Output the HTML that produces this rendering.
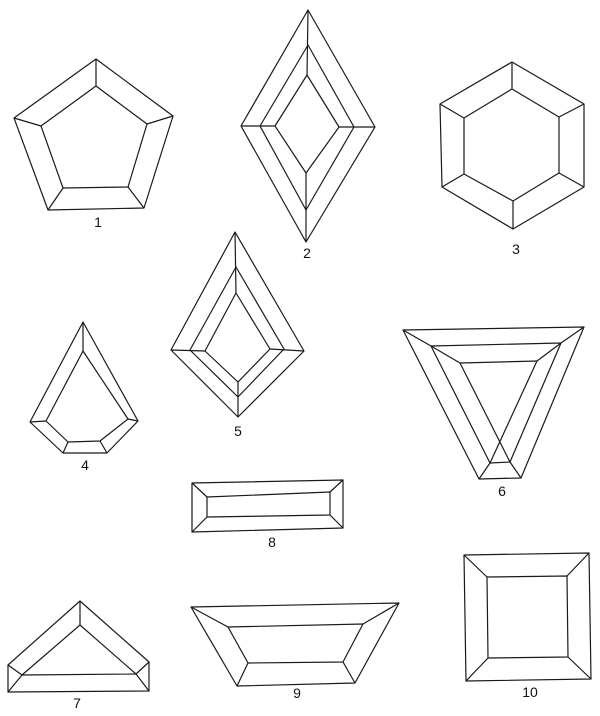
<!DOCTYPE html>
<html><head><meta charset="utf-8"><style>
html,body{margin:0;padding:0;background:#fff;width:600px;height:716px;overflow:hidden}
svg{display:block}
.s{fill:none;stroke:#1a1a1a;stroke-width:1.2;stroke-linejoin:round}
text{font-family:"Liberation Sans",sans-serif;font-size:14px;fill:#111;text-anchor:middle}
</style></head><body>
<svg width="600" height="716" viewBox="0 0 600 716">
<g class="s">
<polygon points="96,59 173,116 144,208 48,210 14,118"/>
<polygon points="96,86 147,124 128,187 63,188 41,126"/>
<path d="M96,59L96,86M173,116L147,124M144,208L128,187M48,210L63,188M14,118L41,126"/>
</g>
<text x="98" y="227">1</text>

<g class="s">
<polygon points="308,10 375,127 306,242 241,126"/>
<polygon points="308,45 354,127 306,210 260,126"/>
<polygon points="307,75 339,127 306,173 275,126"/>
<path d="M308,10L307,75M241,126L275,126M375,127L339,127M306,242L306,173"/>
</g>
<text x="307" y="258">2</text>

<g class="s">
<polygon points="512,62 584,104 584,187 513,229 442,187 440,104"/>
<polygon points="512,89 559,117 559,173 513,201 464,174 464,118"/>
<path d="M512,62L512,89M584,104L559,117M584,187L559,173M513,229L513,201M442,187L464,174M440,104L464,118"/>
</g>
<text x="516" y="254">3</text>

<g class="s">
<polygon points="83,322 138,421 107,453 63,453 30,422"/>
<polygon points="83,351 128,419 100,441 68,442 46,421"/>
<path d="M83,322L83,351M138,421L128,419M107,453L100,441M63,453L68,442M30,422L46,421"/>
</g>
<text x="85" y="470">4</text>

<g class="s">
<polygon points="235,232 304,351 238,417 171,350"/>
<polygon points="236,267 284,349 238,397 190,350"/>
<polygon points="236,293 270,349 238,382 205,351"/>
<path d="M235,232L236,293M171,350L205,351M304,351L270,349M238,417L238,382"/>
</g>
<text x="238" y="436">5</text>

<g class="s">
<polygon points="403,330 584,327 521,478 479,479"/>
<path d="M431,346L561,343M431,346L490,463M561,343L510,462M490,463L510,462"/>
<path d="M460,363L537,361M460,363L510,462M537,361L490,463"/>
<path d="M403,330L431,346M584,327L561,343M431,346L460,363M561,343L537,361M479,479L490,463M521,478L510,462"/>
</g>
<text x="502" y="496">6</text>

<g class="s">
<polygon points="192,483 343,480 343,528 192,532"/>
<polygon points="207,497 330,492 330,515 207,517"/>
<path d="M192,483L207,497M343,480L330,492M343,528L330,515M192,532L207,517"/>
</g>
<text x="272" y="547">8</text>

<g class="s">
<polygon points="80,601 149,662 149,691 8,692 8,665"/>
<polygon points="80,625 136,674 22,675"/>
<path d="M80,601L80,625M8,665L22,675M22,675L8,692M149,662L136,674M136,674L149,691"/>
</g>
<text x="77" y="708">7</text>

<g class="s">
<polygon points="191,607 399,603 355,683 237,686"/>
<polygon points="228,627 363,624 343,662 248,663"/>
<path d="M191,607L228,627M399,603L363,624M355,683L343,662M237,686L248,663"/>
</g>
<text x="297" y="698">9</text>

<g class="s">
<polygon points="464,555 589,553 591,679 466,681"/>
<polygon points="487,577 567,576 568,657 488,658"/>
<path d="M464,555L487,577M589,553L567,576M591,679L568,657M466,681L488,658"/>
</g>
<text x="530" y="697">10</text>
</svg>
</body></html>
